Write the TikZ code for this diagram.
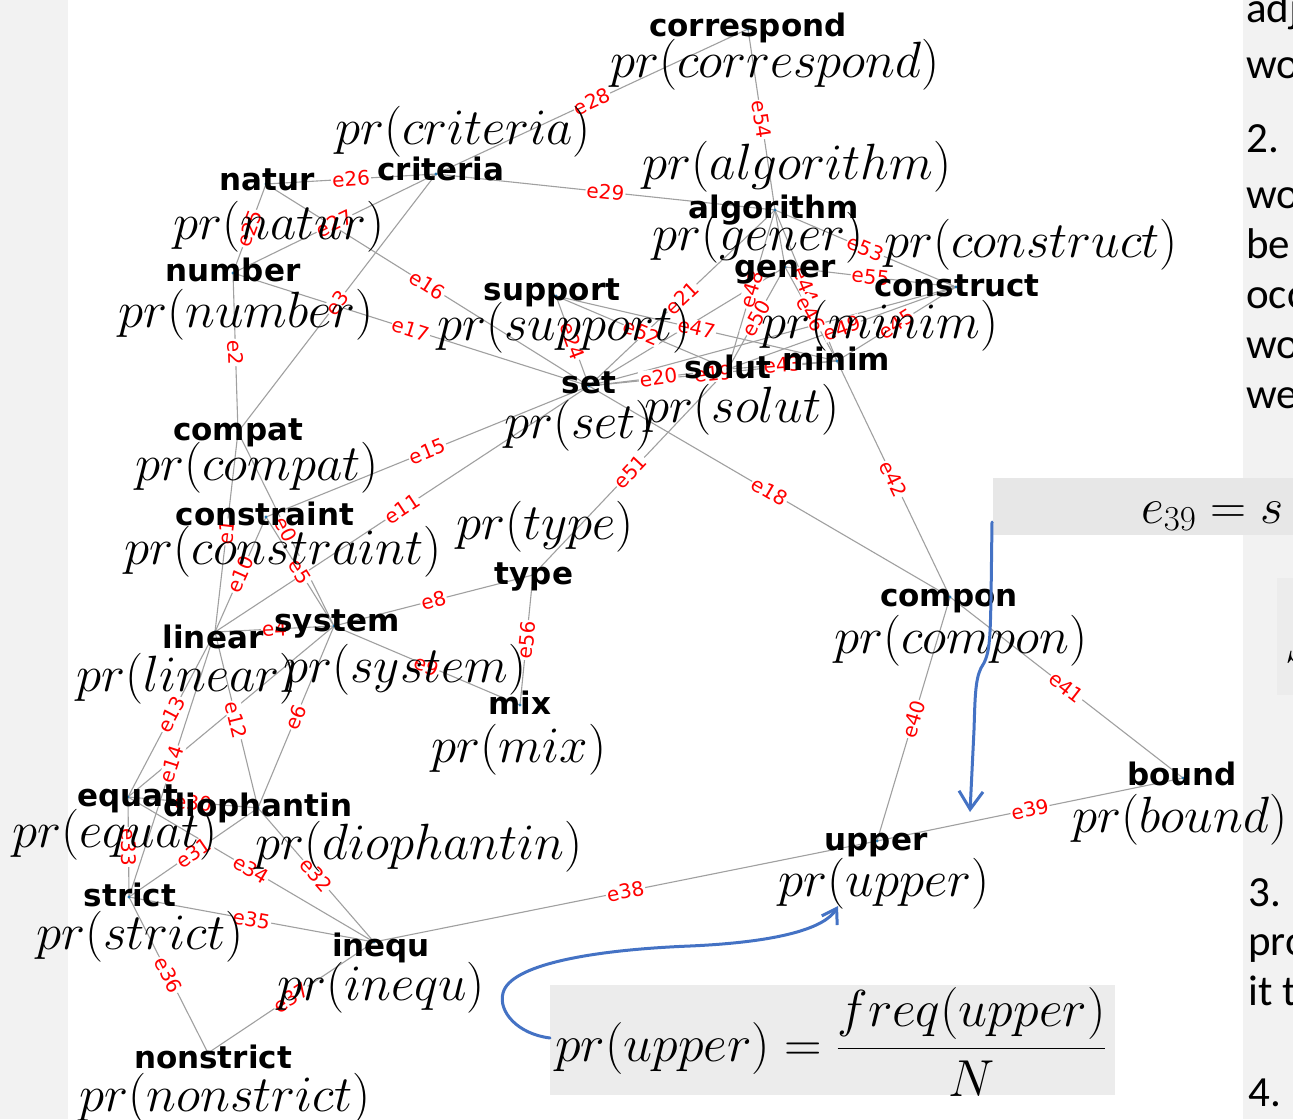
\documentclass[tikz,border=0pt]{standalone}
\usepackage{fix-cm}
\usepackage{fontspec}
\newfontfamily\dejavu{DejaVu Sans}
\newfontfamily\slidefont{Carlito}
\usetikzlibrary{arrows.meta}
\definecolor{edgegray}{HTML}{A0A0A0}
\definecolor{dotblue}{HTML}{1F77B4}
\definecolor{inkblue}{HTML}{4472C4}
\definecolor{panelgray}{HTML}{F2F2F2}
\definecolor{boxgray}{HTML}{E7E7E7}
\definecolor{fracgray}{HTML}{ECECEC}
\definecolor{labred}{HTML}{FF0000}

\begin{document}
\begin{tikzpicture}[x=1pt,y=-1pt,
  edge/.style={draw=edgegray, line width=1.1pt},
  elab/.style={font=\dejavu\fontsize{20}{20}\selectfont, text=labred, fill=white, inner sep=1pt, sloped, pos=0.5},
  wname/.style={font=\dejavu\bfseries\fontsize{31}{31}\selectfont, inner sep=0pt, text height=0.76em, text depth=0.24em, yshift=-8pt},
  prob/.style={font=\fontsize{51}{51}\selectfont, inner sep=0pt, text height=0.75em, text depth=0.25em, yshift=-12pt},
  slide/.style={font=\slidefont\fontsize{43}{43}\selectfont, anchor=base west, inner sep=0pt},
  mathtxt/.style={font=\fontsize{50}{50}\selectfont, inner sep=0pt},
  ink/.style={draw=inkblue, line width=3pt, line cap=round, line join=round},
]
\useasboundingbox (0,0) rectangle (1293,1119);
\clip (0,0) rectangle (1293,1119);

% page background and side panels
\fill[white] (68,0) rectangle (1243,1119);
\fill[panelgray] (0,0) rectangle (68,1119);
\fill[panelgray] (1243,0) rectangle (1293,1119);
\fill[boxgray] (993,478) rectangle (1293,535);
\fill[fracgray] (1277,578) rectangle (1293,695);
\fill[fracgray] (550,985) rectangle (1115,1095);

% word vertices
\coordinate (correspond) at (748,29);
\coordinate (criteria) at (436,174);
\coordinate (natur) at (266,184);
\coordinate (number) at (233,273);
\coordinate (support) at (556,296);
\coordinate (set) at (589,386);
\coordinate (algorithm) at (775,210);
\coordinate (gener) at (785,267);
\coordinate (construct) at (956,287);
\coordinate (minim) at (837,361);
\coordinate (solut) at (728,369);
\coordinate (compat) at (238,432);
\coordinate (constraint) at (266,517);
\coordinate (type) at (533,575);
\coordinate (system) at (334,626);
\coordinate (linear) at (215,632);
\coordinate (mix) at (520,705);
\coordinate (compon) at (950,597);
\coordinate (bound) at (1183,778);
\coordinate (upper) at (877,841);
\coordinate (equat) at (128,797);
\coordinate (diophantin) at (258,808);
\coordinate (strict) at (129,897);
\coordinate (inequ) at (374,942);
\coordinate (nonstrict) at (208,1053);

% edges
\foreach \a/\b in {correspond/criteria, correspond/algorithm, criteria/algorithm,
  natur/criteria, number/criteria, natur/number, natur/set, number/set,
  criteria/compat, number/compat, compat/system, compat/linear,
  constraint/set, constraint/linear, constraint/system, linear/set,
  linear/system, system/type, system/mix, type/mix, type/solut,
  set/compon, set/solut, set/algorithm, set/minim, set/gener, set/construct,
  support/set, support/solut, support/minim, algorithm/solut, gener/solut,
  algorithm/gener, algorithm/minim, gener/minim, algorithm/construct,
  gener/construct, construct/solut, construct/minim, solut/minim,
  minim/compon, compon/upper, compon/bound, upper/bound, inequ/upper,
  linear/equat, linear/strict, linear/diophantin, system/diophantin,
  system/equat, equat/diophantin, equat/strict, strict/diophantin,
  equat/inequ, diophantin/inequ, strict/inequ, strict/nonstrict,
  nonstrict/inequ}
  \draw[edge] (\a) -- (\b);

% edge labels
\foreach \a/\b/\l in {correspond/criteria/e28, correspond/algorithm/e54,
  criteria/algorithm/e29, natur/criteria/e26, number/criteria/e27,
  natur/number/e25, natur/set/e16, number/set/e17, criteria/compat/e3,
  number/compat/e2, compat/system/e0, compat/linear/e1, constraint/set/e15,
  constraint/linear/e10, constraint/system/e5, linear/set/e11,
  linear/system/e4, system/type/e8, system/mix/e9, type/mix/e56,
  type/solut/e51, set/compon/e18, set/solut/e20, set/algorithm/e21,
  set/minim/e19, support/set/e24, support/solut/e52, support/minim/e47,
  algorithm/solut/e48, gener/solut/e50, algorithm/minim/e44,
  gener/minim/e46, algorithm/construct/e53, gener/construct/e55,
  construct/solut/e49, construct/minim/e45, solut/minim/e43,
  minim/compon/e42, compon/upper/e40, compon/bound/e41, upper/bound/e39,
  inequ/upper/e38, linear/equat/e13, linear/strict/e14,
  linear/diophantin/e12, system/diophantin/e6, equat/diophantin/e30,
  equat/strict/e33, strict/diophantin/e31, equat/inequ/e34,
  diophantin/inequ/e32, strict/inequ/e35, strict/nonstrict/e36,
  nonstrict/inequ/e37}
  \path (\a) -- (\b) node[elab] {\l};

% vertex dots
\foreach \v in {correspond, criteria, natur, number, support, set, algorithm,
  gener, construct, minim, solut, compat, constraint, type, system, linear,
  mix, compon, bound, upper, equat, diophantin, strict, inequ, nonstrict}
  \fill[dotblue] (\v) circle (1.6);

% word names
\node[wname] (n-correspond) at (748,26) {correspond};
\node[wname] (n-criteria) at (441,170) {criteria};
\node[wname] (n-natur) at (267,180) {natur};
\node[wname] (n-number) at (233,271) {number};
\node[wname] (n-support) at (552,290) {support};
\node[wname] (n-algorithm) at (774,208) {algorithm};
\node[wname] (n-gener) at (785,267) {gener};
\node[wname] (n-construct) at (957,286) {construct};
\node[wname] (n-set) at (589,383) {set};
\node[wname] (n-solut) at (728,368) {solut};
\node[wname] (n-minim) at (836,360) {minim};
\node[wname] (n-compat) at (238,430) {compat};
\node[wname] (n-constraint) at (265,515) {constraint};
\node[wname] (n-type) at (534,574) {type};
\node[wname] (n-system) at (337,621) {system};
\node[wname] (n-linear) at (213,638) {linear};
\node[wname] (n-mix) at (520,704) {mix};
\node[wname] (n-compon) at (949,596) {compon};
\node[wname] (n-bound) at (1182,775) {bound};
\node[wname] (n-upper) at (876,840) {upper};
\node[wname] (n-equat) at (128,796) {equat};
\node[wname] (n-diophantin) at (258,806) {diophantin};
\node[wname] (n-strict) at (130,896) {strict};
\node[wname] (n-inequ) at (381,946) {inequ};
\node[wname] (n-nonstrict) at (213,1058) {nonstrict};

% probabilities
\node[prob] (p-correspond) at (775,63) {$pr(correspond)$};
\node[prob] (p-criteria) at (463,130) {$pr(criteria)$};
\node[prob] (p-algorithm) at (797,165) {$pr(algorithm)$};
\node[prob] (p-natur) at (279,225) {$pr(natur)$};
\node[prob] (p-gener) at (758,236) {$pr(gener)$};
\node[prob] (p-construct) at (1031,243) {$pr(construct)$};
\node[prob] (p-number) at (246,313) {$pr(number)$};
\node[prob] (p-support) at (564,326) {$pr(support)$};
\node[prob] (p-minim) at (880,324) {$pr(minim)$};
\node[prob] (p-solut) at (742,408) {$pr(solut)$};
\node[prob] (p-set) at (579,424) {$pr(set)$};
\node[prob] (p-compat) at (257,466) {$pr(compat)$};
\node[prob] (p-type) at (545,525) {$pr(type)$};
\node[prob] (p-constraint) at (283,550) {$pr(constraint)$};
\node[prob] (p-linear) at (187,677) {$pr(linear)$};
\node[prob] (p-system) at (405,668) {$pr(system)$};
\node[prob] (p-mix) at (519,748) {$pr(mix)$};
\node[prob] (p-compon) at (961,639) {$pr(compon)$};
\node[prob] (p-bound) at (1180,818) {$pr(bound)$};
\node[prob] (p-upper) at (884,882) {$pr(upper)$};
\node[prob] (p-equat) at (115,833) {$pr(equat)$};
\node[prob] (p-diophantin) at (419,845) {$pr(diophantin)$};
\node[prob] (p-strict) at (140,935) {$pr(strict)$};
\node[prob] (p-inequ) at (381,986) {$pr(inequ)$};
\node[prob] (p-nonstrict) at (225,1097) {$pr(nonstrict)$};

% formulas
\node[mathtxt, anchor=base west] (eq-e39) at (1141,523) {$e_{39}=s$};
\node[mathtxt, anchor=base west] (eq-s) at (1285,662) {$S$};
\node[mathtxt, font=\fontsize{52}{52}\selectfont, anchor=west] (eq-pr) at (555,1042) {$\displaystyle pr(upper)=\frac{freq(upper)}{N}$};

% hand-drawn annotation arrows
\coordinate (inkA0) at (550,1038);
\coordinate (inkA1) at (838,906);
\coordinate (inkB0) at (992,522);
\coordinate (inkB1) at (970,812);
\draw[ink, -{Straight Barb[length=14pt,width=18pt,line width=3pt]}] (inkA0)
  .. controls (518,1034) and (498,1012) .. (503,993)
  .. controls (510,965) and (590,950) .. (690,946)
  .. controls (780,942) and (825,928) .. (inkA1);
\draw[ink, -{Straight Barb[length=18pt,width=24pt,line width=3pt]}] (inkB0)
  -- (991,600) .. controls (990,640) and (990,655) .. (981,668)
  .. controls (975,680) and (975,700) .. (974,730) -- (inkB1);

% slide text at the right edge
\node[slide] (r1) at (1246,22) {adj};
\node[slide] (r2) at (1246,78) {wo};
\node[slide] (r3) at (1246,152) {2.};
\node[slide] (r4) at (1246,208) {wo};
\node[slide] (r5) at (1246,258) {be};
\node[slide] (r6) at (1246,308) {occ};
\node[slide] (r7) at (1246,358) {wo};
\node[slide] (r8) at (1246,408) {we};
\node[slide] (r9) at (1248,906) {3.};
\node[slide] (r10) at (1248,955) {pro};
\node[slide] (r11) at (1248,1005) {it t};
\node[slide] (r12) at (1248,1106) {4.};
\end{tikzpicture}
\end{document}
